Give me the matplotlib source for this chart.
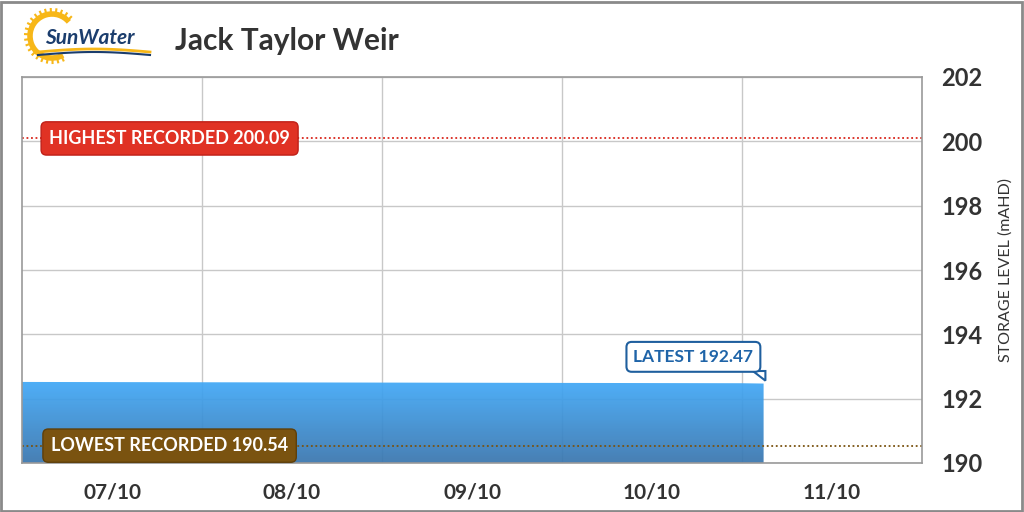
import numpy as np
import matplotlib
matplotlib.use("Agg")
import matplotlib.pyplot as plt
from matplotlib.patches import Rectangle, Arc, Polygon
from matplotlib.colors import LinearSegmentedColormap

plt.rcParams['font.family'] = ['Lato', 'DejaVu Sans']

# data (x in days from 07/10 00:00)
title = "Jack Taylor Weir"
day_labels = ["07/10", "08/10", "09/10", "10/10", "11/10"]
level_days = [0.0, 1.0, 2.0, 3.0, 4.0, 4.12]
level_vals = [192.52, 192.51, 192.50, 192.49, 192.48, 192.47]
highest = 200.09
lowest = 190.54
latest = 192.47
y_ticks = [190, 192, 194, 196, 198, 200, 202]

fig = plt.figure(figsize=(10.24, 5.12), dpi=100)
fig.patch.set_facecolor("white")
fig.patches.append(Rectangle((0.001, 0.002), 0.997, 0.995, transform=fig.transFigure,
                             fill=False, edgecolor="#8a8a8a", linewidth=2))

ax = fig.add_axes([22 / 1024, 49 / 512, 900 / 1024, 386 / 512])
ax.set_xlim(0, 5)
ax.set_ylim(190, 202)

# gradient area
x = np.array(level_days)
y = np.array(level_vals)
poly = ax.fill_between(x, 190, y, color="none", zorder=2)
cmap = LinearSegmentedColormap.from_list("lvl", ["#3a76ae", "#41a9f8"])
grad = np.linspace(0, 1, 256).reshape(-1, 1)
im = ax.imshow(grad, extent=[0, x[-1], 190, y.max()], origin="lower", aspect="auto",
               cmap=cmap, zorder=2, alpha=0.93)
im.set_clip_path(poly.get_paths()[0], transform=ax.transData)
ax.set_xlim(0, 5)
ax.set_ylim(190, 202)

# grid
ax.set_xticks([1, 2, 3, 4], minor=True)
ax.set_xticks(np.arange(5) + 0.5)
ax.set_xticklabels(day_labels)
ax.set_yticks(y_ticks)
ax.grid(True, which="minor", axis="x", color="#c8c8c8", linewidth=1)
ax.grid(True, which="major", axis="y", color="#c8c8c8", linewidth=1)
ax.set_axisbelow(True)
for s in ax.spines.values():
    s.set_color("#999999")
    s.set_linewidth(1.2)
    s.set_zorder(5)

ax.yaxis.tick_right()
ax.yaxis.set_label_position("right")
ax.tick_params(axis="y", length=0, pad=14, labelsize=17, labelcolor="#333333")
ax.tick_params(axis="x", which="both", length=0, pad=14, labelsize=15, labelcolor="#333333")
for lab in ax.get_xticklabels() + ax.get_yticklabels():
    lab.set_fontweight("bold")
ax.set_ylabel("STORAGE LEVEL (mAHD)", fontsize=11.5, color="#333333", labelpad=11)

# reference lines
ax.axhline(highest, color="#d9261c", linestyle=(0, (1, 1.5)), linewidth=1.3, zorder=4)
ax.axhline(lowest, color="#7a5310", linestyle=(0, (1, 1.5)), linewidth=1.3, zorder=4)

box = "round,pad=0.45,rounding_size=0.3"
ax.text(0.82, highest, "HIGHEST RECORDED %.2f" % highest, ha="center", va="center",
        fontsize=13, fontweight="bold", color="white", zorder=6,
        bbox=dict(boxstyle=box, facecolor="#e03224", edgecolor="#c02018", linewidth=1))
ax.text(0.82, lowest, "LOWEST RECORDED %.2f" % lowest, ha="center", va="center",
        fontsize=13, fontweight="bold", color="white", zorder=6,
        bbox=dict(boxstyle=box, facecolor="#7a5310", edgecolor="#5e3f0a", linewidth=1))
ax.text(3.73, 193.3, "LATEST %.2f" % latest, ha="center", va="center",
        fontsize=12.5, fontweight="bold", color="#1f64a8", zorder=6,
        bbox=dict(boxstyle="round,pad=0.4,rounding_size=0.3", facecolor="white",
                  edgecolor="#1f5f9e", linewidth=1.5))
# callout tail of the latest label
ax.add_patch(Polygon([(4.06, 192.86), (4.13, 192.56), (4.13, 192.86)], closed=True,
                     facecolor="white", edgecolor="#1f5f9e", linewidth=1.5, zorder=5))

# title
fig.text(175 / 1024, 1 - 41 / 512, title, fontsize=21.5, fontweight="bold",
         color="#333333", va="center", ha="left")

# logo
lax = fig.add_axes([20 / 1024, 1 - 66 / 512, 135 / 1024, 58 / 512])
lax.set_xlim(0, 135)
lax.set_ylim(0, 58)
lax.axis("off")
lax.add_patch(Arc((32, 30), 44, 44, theta1=40, theta2=300, color="#f7b718", linewidth=4))
for a in np.linspace(45, 295, 22):
    r = np.deg2rad(a)
    lax.plot([32 + 23 * np.cos(r), 32 + 27 * np.cos(r)],
             [30 + 23 * np.sin(r), 30 + 27 * np.sin(r)], color="#f7b718", linewidth=1.5)
lax.text(70, 28, "SunWater", fontsize=15, fontstyle="italic", fontweight="bold",
         color="#1b3d6d", ha="center", va="center")
xs = np.linspace(18, 130, 50)
lax.plot(xs, 14 + 3 * np.sin((xs - 18) / 112 * np.pi), color="#f7b718", linewidth=2)
lax.plot(xs, 11 + 3 * np.sin((xs - 18) / 112 * np.pi), color="#1b3d6d", linewidth=1.5)

fig.savefig("out.png", dpi=100, facecolor="white")
